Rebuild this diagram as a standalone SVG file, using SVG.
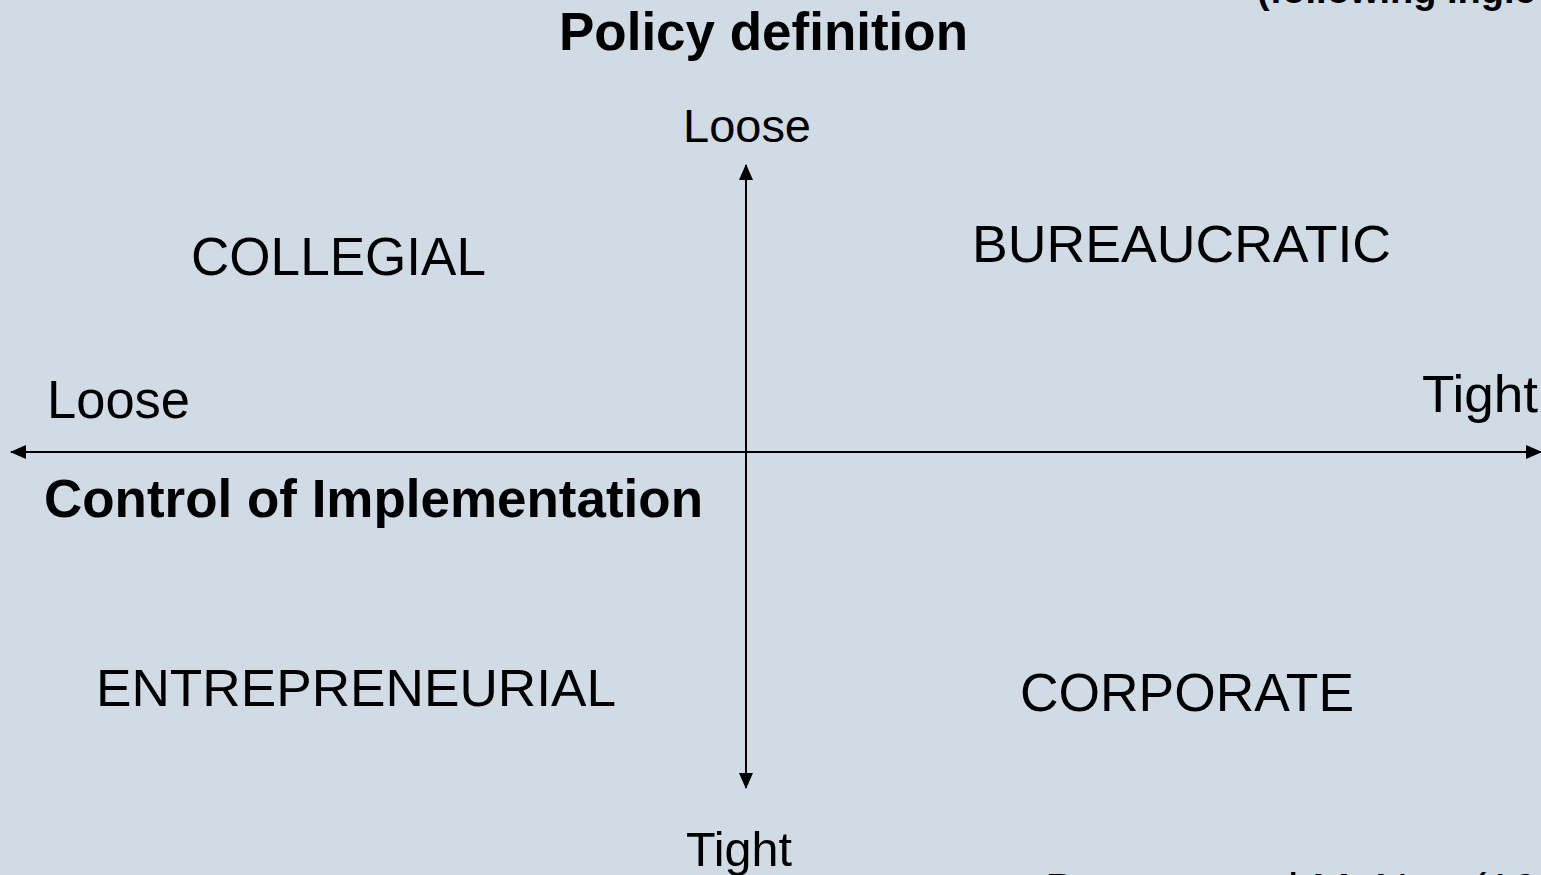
<svg xmlns="http://www.w3.org/2000/svg" width="1541" height="875" viewBox="0 0 1541 875">
<style>
text{font-family:"Liberation Sans",Arial,sans-serif;fill:#000}
.b{font-weight:bold}
.axis{stroke:#000;stroke-width:2;fill:none}
</style>
<defs>
<marker id="ah" viewBox="0 0 16 14" refX="15" refY="7" markerWidth="16" markerHeight="14" markerUnits="userSpaceOnUse" orient="auto-start-reverse">
<path d="M0,0 L16,7 L0,14 Z" fill="#000"/>
</marker>
</defs>
<rect width="1541" height="875" fill="#D0DBE6"/>
<g id="connectors">
<line class="axis" x1="11" y1="452" x2="1541" y2="452" marker-start="url(#ah)" marker-end="url(#ah)"/>
<line class="axis" x1="746" y1="165" x2="746" y2="788" marker-start="url(#ah)" marker-end="url(#ah)"/>
</g>
<g id="title"><text class="b" x="559" y="50" font-size="53" textLength="409" lengthAdjust="spacingAndGlyphs">Policy definition</text></g>
<g id="note"><text class="b" x="1257" y="3" font-size="38">(following Ingle</text></g>
<g id="loose-top"><text x="683" y="142" font-size="47" textLength="128" lengthAdjust="spacingAndGlyphs">Loose</text></g>
<g id="collegial"><text x="191" y="275" font-size="53" textLength="295" lengthAdjust="spacingAndGlyphs">COLLEGIAL</text></g>
<g id="bureaucratic"><text x="972" y="262" font-size="52" textLength="419" lengthAdjust="spacingAndGlyphs">BUREAUCRATIC</text></g>
<g id="loose-left"><text x="47" y="418" font-size="53" textLength="143" lengthAdjust="spacingAndGlyphs">Loose</text></g>
<g id="tight-right"><text x="1422" y="412" font-size="52" textLength="116" lengthAdjust="spacingAndGlyphs">Tight</text></g>
<g id="control"><text class="b" x="44" y="517" font-size="53" textLength="659" lengthAdjust="spacingAndGlyphs">Control of Implementation</text></g>
<g id="entrepreneurial"><text x="96" y="706" font-size="52" textLength="520" lengthAdjust="spacingAndGlyphs">ENTREPRENEURIAL</text></g>
<g id="corporate"><text x="1020" y="711" font-size="53" textLength="334" lengthAdjust="spacingAndGlyphs">CORPORATE</text></g>
<g id="tight-bottom"><text x="686" y="866" font-size="48" textLength="106" lengthAdjust="spacingAndGlyphs">Tight</text></g>
<g id="source"><text x="1045" y="906" font-size="47">Dopson and McNay (1996)</text></g>
</svg>
